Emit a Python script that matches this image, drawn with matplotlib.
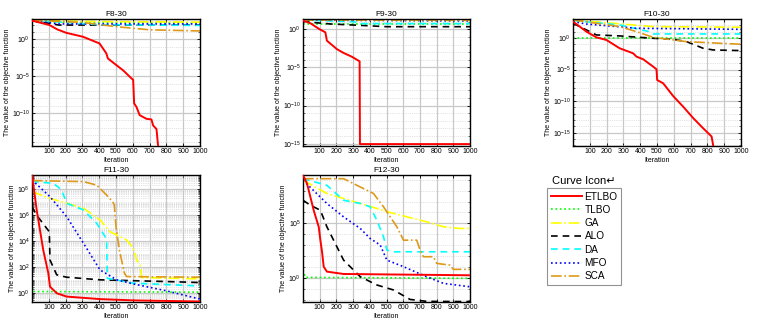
import matplotlib
matplotlib.use('Agg')
import matplotlib.pyplot as plt
from matplotlib.lines import Line2D
from matplotlib.ticker import FixedLocator, NullFormatter, LogFormatterSciNotation

plt.rcParams['font.family'] = ['Liberation Sans', 'DejaVu Sans']

names = ['ETLBO', 'TLBO', 'GA', 'ALO', 'DA', 'MFO', 'SCA']
xticks = [100, 200, 300, 400, 500, 600, 700, 800, 900, 1000]

# (iteration, best objective value)
f8_etlbo = [(0, 355), (104, 89), (150, 23), (203, 7.9), (303, 2.3), (402, 0.28), (442, 1.3e-2), (452, 2.5e-3),
            (502, 3.2e-4), (542, 6.3e-5), (592, 5e-6), (602, 3.2e-6), (608, 2e-9), (622, 6.3e-10), (641, 5e-11),
            (681, 1.6e-11), (711, 1.3e-11), (721, 2e-12), (741, 6.3e-13), (751, 2.5e-15), (756, 1e-16)]
f8_tlbo = [(0, 400), (30, 224), (1000, 178)]
f8_ga = [(0, 400), (300, 280), (1000, 224)]
f8_alo = [(0, 400), (100, 158), (160, 89), (1000, 89)]
f8_da = [(0, 400), (200, 200), (400, 100), (1000, 79)]
f8_mfo = [(0, 400), (150, 126), (1000, 126)]
f8_sca = [(0, 400), (300, 200), (500, 54), (700, 20), (1000, 14)]

f9_etlbo = [(0, 14), (44, 6.2), (100, 1), (134, 0.4), (143, 3.2e-2), (203, 2.5e-3), (243, 7.9e-4),
            (293, 2.5e-4), (339, 6.3e-5), (341, 8.9e-16), (1000, 8.9e-16)]
f9_tlbo = [(0, 5), (1000, 5)]
f9_ga = [(0, 16), (1000, 14)]
f9_alo = [(0, 16), (74, 7.4), (163, 5), (343, 3.3), (500, 2.2), (1000, 2.2)]
f9_da = [(0, 16), (300, 10), (350, 5.6), (1000, 5.6)]
f9_mfo = [(0, 16), (1000, 12.6)]
f9_sca = [(0, 17), (1000, 16)]

f10_etlbo = [(0, 390), (40, 63), (80, 10), (139, 1.26), (199, 0.48), (278, 2.3e-2), (358, 3.7e-3), (378, 1.1e-3),
             (418, 4.2e-4), (477, 2.9e-5), (497, 1.1e-5), (501, 2.2e-7), (537, 6.6e-8), (596, 6.5e-10),
             (656, 1.3e-11), (716, 2e-13), (775, 5e-15), (825, 2.5e-16), (835, 7.9e-18), (840, 1e-18)]
f10_tlbo = [(0, 0.89), (1000, 0.89)]
f10_ga = [(0, 710), (477, 63), (1000, 49)]
f10_alo = [(0, 210), (80, 18.6), (139, 3.0), (278, 2.1), (477, 0.89), (596, 0.62), (676, 0.26),
           (775, 2.3e-2), (835, 1.26e-2), (1000, 1e-2)]
f10_da = [(0, 560), (278, 115), (440, 12), (457, 10), (477, 4.3), (1000, 4.3)]
f10_mfo = [(0, 390), (80, 160), (378, 34), (1000, 23)]
f10_sca = [(0, 710), (278, 63), (378, 10), (477, 1.26), (676, 0.26), (1000, 0.1)]

f11_etlbo = [(0, 1.3e9), (28, 2.5e6), (67, 2.1e3), (97, 35), (107, 3.2), (147, 1), (206, 0.55),
             (405, 0.35), (603, 0.28), (1000, 0.23)]
f11_tlbo = [(0, 5.9), (5, 1.35), (1000, 1.2)]
f11_ga = [(0, 6.6e7), (107, 2e7), (306, 3.5e6), (405, 4.4e5), (464, 5.5e4), (563, 1.26e4), (603, 2.9e3),
          (623, 365), (643, 150), (653, 16), (1000, 12.6)]
f11_alo = [(0, 4.6e6), (28, 1e6), (87, 1e5), (103, 5.5e4), (107, 365), (147, 26), (206, 17), (405, 10.7),
           (802, 7.9), (1000, 6.6)]
f11_da = [(0, 4e8), (127, 2.9e8), (177, 8.9e7), (206, 8.3e6), (306, 2.6e6), (385, 2.4e5), (435, 2.3e4),
          (444, 1.26e4), (448, 14), (603, 5.9), (1000, 3.6)]
f11_mfo = [(0, 5.2e8), (107, 2.7e7), (206, 7.9e5), (306, 7.1e3), (405, 62), (504, 10.7), (603, 5.2),
           (802, 1.5), (1000, 0.35)]
f11_sca = [(0, 4.7e8), (306, 3.9e8), (385, 2.1e8), (444, 3.6e7), (480, 1.1e7), (490, 6.3e6), (500, 1.35e5),
           (520, 2.1e3), (550, 35), (563, 19), (1000, 17)]

f12_etlbo = [(0, 2.5e9), (24, 4.4e8), (64, 1.6e6), (94, 5e4), (104, 3e3), (114, 263), (124, 11.5),
             (143, 4.1), (243, 2.5), (1000, 1.9)]
f12_tlbo = [(0, 5.8), (14, 1.23), (1000, 1)]
f12_ga = [(0, 8.7e8), (143, 5.4e7), (343, 6.6e6), (542, 8.1e5), (741, 1.4e5), (841, 5e4), (940, 3.5e4),
          (1000, 3.5e4)]
f12_alo = [(0, 1.3e7), (44, 4.6e6), (104, 1.6e6), (143, 5e4), (243, 46), (343, 1.4), (442, 0.25),
           (542, 8.7e-2), (641, 1.2e-2), (741, 8e-3), (1000, 7.6e-3)]
f12_da = [(0, 1.2e9), (143, 3e8), (243, 1.3e7), (343, 6.6e6), (402, 3.3e6), (442, 2e5), (482, 6.2e3),
          (502, 380), (542, 263), (1000, 263)]
f12_mfo = [(0, 8.7e8), (143, 6.6e6), (243, 4e5), (343, 3.5e4), (402, 4.3e3), (462, 1.1e3), (502, 46),
           (602, 11.5), (741, 1.4), (841, 0.35), (1000, 0.17)]
f12_sca = [(0, 1.2e9), (243, 1.2e9), (343, 2.1e8), (422, 5.4e7), (482, 3.3e6), (562, 5e4), (602, 3e3),
           (681, 3e3), (701, 380), (721, 93), (781, 93), (801, 23), (880, 16), (900, 6.6), (1000, 6.6)]

styles = {
    'ETLBO': dict(color='red', ls='-', lw=1.4),
    'TLBO': dict(color=(0, 1, 0), ls=':', lw=1.2),
    'GA': dict(color=(1, 1, 0), ls='-.', lw=1.2),
    'ALO': dict(color='black', ls=(0, (4, 3)), lw=1.2),
    'DA': dict(color=(0, 1, 1), ls=(0, (4, 3)), lw=1.2),
    'MFO': dict(color='blue', ls=':', lw=1.2),
    'SCA': dict(color=(0.87, 0.6, 0.1), ls='-.', lw=1.2),
}

W, H = 759, 327
fig = plt.figure(figsize=(W / 100, H / 100), dpi=100)


def px_axes(left, top, right, bottom):
    return fig.add_axes([left / W, 1 - bottom / H, (right - left) / W, (bottom - top) / H])


def decades(lo, hi, step=1):
    return [10.0 ** e for e in range(lo, hi + 1, step)]


panels = [
    ('F8-30', (32, 19, 200, 146), [f8_etlbo, f8_tlbo, f8_ga, f8_alo, f8_da, f8_mfo, f8_sca],
     (3.2e-15, 590), decades(-10, 0, 5), decades(-14, 2)),
    ('F9-30', (303, 19, 470, 146), [f9_etlbo, f9_tlbo, f9_ga, f9_alo, f9_da, f9_mfo, f9_sca],
     (5e-16, 22.4), decades(-15, 0, 5), decades(-15, 1)),
    ('F10-30', (573, 19, 741, 146), [f10_etlbo, f10_tlbo, f10_ga, f10_alo, f10_da, f10_mfo, f10_sca],
     (7.9e-18, 1000), decades(-15, 0, 5), decades(-17, 3)),
    ('F11-30', (32, 175, 200, 302), [f11_etlbo, f11_tlbo, f11_ga, f11_alo, f11_da, f11_mfo, f11_sca],
     (0.21, 1.26e9), decades(0, 8, 2), [m * d for d in decades(-1, 9) for m in range(1, 10)]),
    ('F12-30', (303, 175, 470, 302), [f12_etlbo, f12_tlbo, f12_ga, f12_alo, f12_da, f12_mfo, f12_sca],
     (7e-3, 2.6e9), decades(0, 5, 5), decades(-2, 9)),
]

for title, box, series, ylim, major, minor in panels:
    ax = px_axes(*box)
    order = list(range(1, 7)) + [0]
    for i in order:
        it, val = zip(*series[i])
        ax.plot(it, val, zorder=3 if i == 0 else 2, **styles[names[i]])
    ax.set_yscale('log')
    ax.set_xlim(0, 1000)
    ax.set_ylim(*ylim)
    ax.set_xticks(xticks)
    ax.yaxis.set_major_locator(FixedLocator(major))
    ax.yaxis.set_major_formatter(LogFormatterSciNotation())
    ax.yaxis.set_minor_locator(FixedLocator(minor))
    ax.yaxis.set_minor_formatter(NullFormatter())
    ax.tick_params(which='both', direction='in', top=True, right=True, labelsize=5, pad=1.5)
    ax.tick_params(which='major', length=2.5, width=0.6)
    ax.tick_params(which='minor', length=1.2, width=0.4)
    ax.grid(True, which='major', color='#c8c8c8', lw=0.9)
    ax.grid(True, which='minor', axis='y', color='#c8c8c8', ls=':', lw=0.5)
    ax.set_axisbelow(True)
    for s in ax.spines.values():
        s.set_linewidth(1.0)
    ax.set_title(title, fontsize=6, pad=2.5)
    ax.set_xlabel('Iteration', fontsize=5, labelpad=1.5)
    ax.set_ylabel('The value of the objective function', fontsize=5, labelpad=1)

handles = [Line2D([], [], **styles[n]) for n in names]
leg = fig.legend(handles, names, loc='upper left', bbox_to_anchor=(547 / W, 1 - 188 / H),
                 fontsize=7.2, frameon=True, fancybox=False, edgecolor='#777777',
                 handlelength=3.1, handletextpad=0.3, labelspacing=0.33, borderpad=0.35,
                 borderaxespad=0)
leg.get_frame().set_linewidth(0.8)
fig.text(584 / W, 1 - 181 / H, 'Curve Icon\u21b5', fontsize=8, ha='center', va='center')

fig.savefig('out.png', dpi=100)
